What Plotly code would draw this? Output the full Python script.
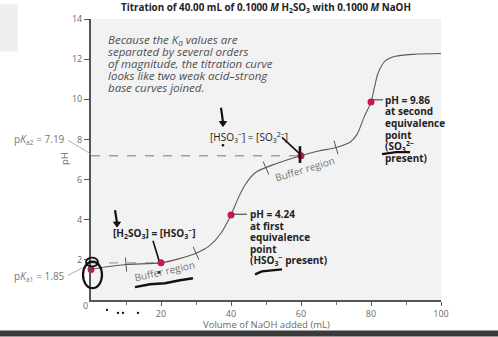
import numpy as np
import plotly.graph_objects as go

# Titration curve: volume of NaOH added (mL) and measured pH
volume = [0, 4, 10, 20, 25, 30, 34, 37, 40, 42, 44, 47, 53, 60, 65, 70, 74, 76, 78, 80, 81, 82, 84, 87, 92, 100]
ph = [1.52, 1.64, 1.77, 1.85, 2.05, 2.33, 2.72, 3.3, 4.24, 5.05, 5.73, 6.35, 6.8, 7.19, 7.42, 7.6, 7.86, 8.25, 9.1, 9.86, 10.6, 11.3, 11.9, 12.14, 12.24, 12.28]

# Highlighted points on the curve
key_volume = [0, 20, 40, 60, 80]
key_ph = [1.52, 1.85, 4.24, 7.19, 9.86]

# Acid dissociation constants and the half-equivalence volumes
pka = [1.85, 7.19]
half_eq_volume = [20, 60]

# Edges of the two buffer regions
buffer_bounds = [10, 30, 50, 70]

x_ticks = [20, 40, 60, 80, 100]
x_minor_ticks = [10, 30, 50, 70, 90]
y_ticks = [2, 4, 6, 8, 10, 12, 14]

W, H = 498, 337
L, R, T, B = 91, 57, 15, 37
PW, PH = W - L - R, H - T - B


def P(px, py):
    """Pixel position on the page -> paper coordinates."""
    return (px - L) / PW, (H - B - py) / PH


def path(points):
    s = ""
    for i, (px, py) in enumerate(points):
        x, y = P(px, py)
        s += ("M" if i == 0 else "L") + f"{x:.4f},{y:.4f} "
    return s.strip()


FONT = "Open Sans"
GRAY = "#6a6a6a"
DARK = "#222222"
PEN = "#111111"

fig = go.Figure()

fig.add_trace(go.Scatter(
    x=volume, y=ph, mode="lines",
    line=dict(color="#5a5a5a", width=1.1, shape="spline", smoothing=0.8),
    hoverinfo="skip", showlegend=False,
))

fig.add_trace(go.Scatter(
    x=key_volume, y=key_ph, mode="markers",
    marker=dict(color="#c8184f", size=7),
    hoverinfo="skip", showlegend=False, cliponaxis=False,
))

shapes = []

# Dashed lines at pH = pKa up to the half-equivalence points
for pk, v in zip(pka, half_eq_volume):
    shapes.append(dict(type="line", xref="x", yref="y", x0=0, x1=v, y0=pk, y1=pk,
                       line=dict(color="#a0a0a0", width=1.4, dash="dash"), layer="below"))

# Small cross-ticks marking buffer-region limits, drawn normal to the curve
sx, sy = PW / 100.0, PH / 14.0
for b in buffer_bounds:
    yb = float(np.interp(b, volume, ph))
    slope = (np.interp(b + 1, volume, ph) - np.interp(b - 1, volume, ph)) / 2.0
    tx, ty = sx, sy * slope
    n = np.hypot(tx, ty)
    nx, ny = -ty / n, tx / n
    half = 7
    shapes.append(dict(type="line", xref="x", yref="y", xsizemode="pixel", ysizemode="pixel",
                       xanchor=b, yanchor=yb,
                       x0=-nx * half, x1=nx * half, y0=-ny * half, y1=ny * half,
                       line=dict(color="#555555", width=1)))

# Leader lines for pKa labels
shapes.append(dict(type="path", xref="paper", yref="paper", path=path([(68, 138), (91, 152)]),
                   line=dict(color="#9a9a9a", width=0.8)))
shapes.append(dict(type="path", xref="paper", yref="paper", path=path([(68, 275), (87, 265)]),
                   line=dict(color="#9a9a9a", width=0.8)))

# Leader lines for equivalence point labels
shapes.append(dict(type="path", xref="paper", yref="paper", path=path([(233, 213), (247, 213)]),
                   line=dict(color="#333333", width=1)))
shapes.append(dict(type="path", xref="paper", yref="paper", path=path([(372, 97), (383, 97)]),
                   line=dict(color="#333333", width=1)))

# Pen marks
pen_lines = [
    ([(115, 209), (116, 215), (117, 222)], 2.2),
    ([(221, 105), (222, 112), (223, 120)], 2.2),
    ([(282, 135), (299, 151)], 1.6),
    ([(300, 144), (300, 161)], 2.6),
    ([(153, 240), (159, 260)], 1.6),
    ([(135, 287), (150, 284), (165, 283), (180, 280), (193, 278)], 2.4),
    ([(255, 274), (262, 271), (272, 270), (282, 269)], 2.2),
    ([(382, 152), (396, 150), (410, 150)], 2.2),
]
for pts, w in pen_lines:
    shapes.append(dict(type="path", xref="paper", yref="paper", path=path(pts),
                       line=dict(color=PEN, width=w)))

# Arrow heads
for cx, cy in [(117, 224), (223, 122)]:
    shapes.append(dict(type="path", xref="paper", yref="paper",
                       path=path([(cx - 3.5, cy - 3), (cx + 3.5, cy - 3), (cx, cy + 2)]) + " Z",
                       fillcolor=PEN, line=dict(color=PEN, width=1)))

# Dots
for cx, cy, r in [(223, 143, 1.3), (159, 272, 1.5), (107, 310, 1.2), (118, 313, 1.2),
                  (123, 313, 1.2), (138, 313, 1.2)]:
    x0, y0 = P(cx - r, cy + r)
    x1, y1 = P(cx + r, cy - r)
    shapes.append(dict(type="circle", xref="paper", yref="paper", x0=x0, y0=y0, x1=x1, y1=y1,
                       fillcolor=PEN, line=dict(color=PEN, width=0)))

# Circles drawn around the starting point
for (a, b_, c, d), w in [((83, 261, 102, 288), 2.2), ((86, 257, 98, 266), 1.8)]:
    x0, y0 = P(a, d)
    x1, y1 = P(c, b_)
    shapes.append(dict(type="circle", xref="paper", yref="paper", x0=x0, y0=y0, x1=x1, y1=y1,
                       line=dict(color=PEN, width=w)))

# Page decorations: grey block at top-left, dark strip at bottom
x0, y0 = P(0, 48)
x1, y1 = P(18, 0)
shapes.append(dict(type="rect", xref="paper", yref="paper", x0=x0, y0=y0, x1=x1, y1=y1,
                   fillcolor="#efefef", line=dict(width=0), layer="below"))
x0, y0 = P(0, 337)
x1, y1 = P(498, 331)
shapes.append(dict(type="rect", xref="paper", yref="paper", x0=x0, y0=y0, x1=x1, y1=y1,
                   fillcolor="#3a3a3a", line=dict(width=0)))

annotations = []


def note(px, py, text, size=10, color=DARK, xanchor="left", yanchor="middle", align="left",
         angle=0, family=FONT):
    x, y = P(px, py)
    annotations.append(dict(x=x, y=y, xref="paper", yref="paper", text=text, showarrow=False,
                            xanchor=xanchor, yanchor=yanchor, align=align, textangle=angle,
                            font=dict(family=family, size=size, color=color)))


para = ["Because the <i>K</i><sub>a</sub> values are", "separated by several orders",
        "of magnitude, the titration curve", "looks like two weak acid–strong",
        "base curves joined."]
for i, line in enumerate(para):
    note(106, 36 + 12 * i, f"<i>{line}</i>", size=11.5, color="#505050")

note(208, 135, "[HSO<sub>3</sub><sup>−</sup>] = [SO<sub>3</sub><sup>2−</sup>]", size=10, color=DARK)
note(111, 233, "<b>[H<sub>2</sub>SO<sub>3</sub>] = [HSO<sub>3</sub><sup>−</sup>]</b>", size=10)

for i, line in enumerate(["pH = 9.86", "at second", "equivalence", "point",
                          "(SO<sub>3</sub><sup>2−</sup>", "present)"]):
    note(383, 97 + 11.8 * i, f"<b>{line}</b>", size=10)

for i, line in enumerate(["pH = 4.24", "at first", "equivalence", "point",
                          "(HSO<sub>3</sub><sup>−</sup> present)"]):
    note(248, 213 + 11.8 * i, f"<b>{line}</b>", size=10)

note(164, 271, "Buffer region", size=10, color="#777777", xanchor="center", angle=-12.5)
note(304, 167, "Buffer region", size=10, color="#777777", xanchor="center", angle=-17)

note(67, 137, "p<i>K</i><sub>a2</sub> = 7.19", size=10, color="#777777", xanchor="right")
note(67, 276, "p<i>K</i><sub>a1</sub> = 1.85", size=10, color="#777777", xanchor="right")

note(85, 306, "0", size=9, color=GRAY, xanchor="center")
note(64, 157, "pH", size=9.5, color=GRAY, xanchor="center", angle=-90)
note(266, 325, "Volume of NaOH added (mL)", size=9.5, color=GRAY, xanchor="center")

fig.update_layout(
    width=W, height=H,
    margin=dict(l=L, r=R, t=T, b=B, pad=0),
    paper_bgcolor="white",
    plot_bgcolor="#f2f2f2",
    font=dict(family=FONT, color=GRAY, size=9),
    title=dict(text="<b>Titration of 40.00 mL of 0.1000 <i>M</i> H<sub>2</sub>SO<sub>3</sub> "
                    "with 0.1000 <i>M</i> NaOH</b>",
               x=0.5, xref="paper", xanchor="center",
               y=1 - 7.5 / H, yref="container", yanchor="middle",
               font=dict(family=FONT, size=9.8, color=DARK)),
    xaxis=dict(range=[0, 100], tickvals=x_ticks, ticks="outside", ticklen=4, tickwidth=1,
               tickcolor="#555555", showline=True, linewidth=2, linecolor="#555555",
               showgrid=False, zeroline=False, fixedrange=True,
               tickfont=dict(family=FONT, size=9, color=GRAY),
               minor=dict(tickvals=x_minor_ticks, ticks="outside", ticklen=3,
                          tickcolor="#777777", showgrid=False)),
    yaxis=dict(range=[0, 14], tickvals=y_ticks, ticks="outside", ticklen=5, tickwidth=1,
               tickcolor="#555555", showline=True, linewidth=2, linecolor="#555555",
               showgrid=False, zeroline=False, fixedrange=True,
               tickfont=dict(family=FONT, size=9, color=GRAY)),
    shapes=shapes,
    annotations=annotations,
    showlegend=False,
)

fig.write_html("out.html", config={"displayModeBar": False})
